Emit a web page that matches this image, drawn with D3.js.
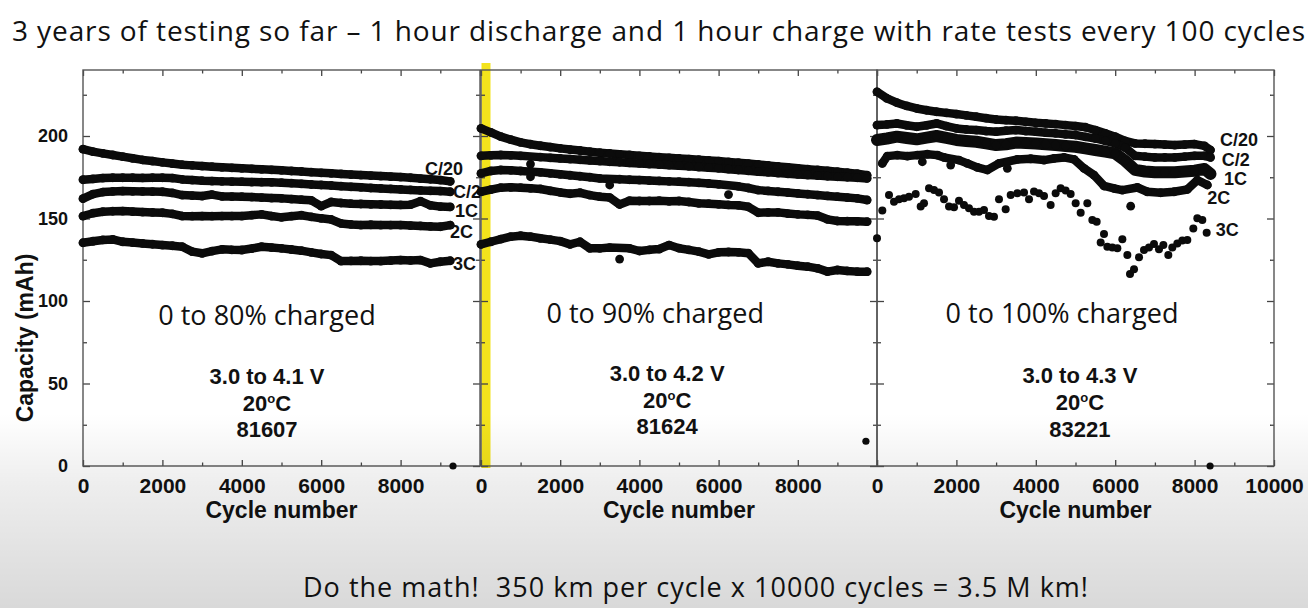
<!DOCTYPE html>
<html>
<head>
<meta charset="utf-8">
<script src="https://cdn.jsdelivr.net/npm/d3@7/dist/d3.min.js"></script>
<style>
  html, body { margin: 0; padding: 0; background: #fff; }
  svg { display: block; }
  .axis text { font-family: "Liberation Sans", Arial, sans-serif; font-weight: bold; fill: #111; }
  .axis line { stroke: #444; }
</style>
</head>
<body>
<svg id="chart" width="1308" height="608"></svg>
<script>
// ---- data (capacity in mAh vs cycle number) ----
const majorCycles = [0, 2000, 4000, 6000, 8000, 10000];
const minorCycles = [1000, 3000, 5000, 7000, 9000];
const majorCapacity = [0, 50, 100, 150, 200];
const minorCapacity = [25, 75, 125, 175, 225];

const cycles80 = [0, 250, 500, 750, 1000, 1250, 1500, 1750, 2000, 2250, 2500, 2750, 3000, 3250, 3500, 3750, 4000, 4250, 4500, 4750,
  5000, 5250, 5500, 5750, 6000, 6250, 6500, 6750, 7000, 7250, 7500, 7750, 8000, 8250, 8500, 8750, 9000, 9250];
const p80C20 = [192, 190.5, 189.5, 188.5, 187.5, 186.5, 185.5, 184.8, 184, 183.3, 182.6, 182.2, 181.8, 181.4, 181, 180.7, 180.4, 180.1, 179.8, 179.5,
  179.2, 178.8, 178.5, 178.1, 177.7, 177.4, 177, 176.6, 176.3, 176, 175.7, 175.4, 175.1, 174.7, 174.2, 173.8, 173.3, 172.5];
const p80C2 = [173.5, 174, 174.5, 174.7, 174.7, 174.7, 174.6, 174.7, 174.7, 174.5, 173.7, 173.3, 172.9, 172.7, 172.5, 172.4, 172.3, 172.1, 172, 171.9,
  171.7, 171.4, 171, 170.6, 170.3, 170, 169.6, 169.2, 168.9, 168.5, 168.2, 167.9, 167.6, 167.3, 167, 166.8, 166.6, 166.2];
const p80R1 = [162, 164.8, 166, 166.4, 166.6, 166.5, 166.4, 166.3, 166.2, 165.5, 164.2, 163.9, 163.6, 164.5, 163.4, 163.3, 163.2, 163, 162.7, 162.4,
  162.2, 161.8, 161.4, 161, 157.5, 160, 159.4, 159, 158.8, 158.6, 158.5, 158.3, 158.2, 158.4, 160.5, 158, 157.2, 157];
const p80R2 = [151.5, 153.2, 154.1, 154.4, 154.5, 154.2, 153.9, 153.7, 153.5, 152.8, 151.5, 151.4, 151.5, 151.4, 151.5, 151.5, 151.5, 152, 152.5, 151.5,
  150.7, 151.4, 152, 151, 150.1, 149.4, 147, 146.4, 146, 146.2, 146, 146, 146, 145.7, 145.5, 145.2, 145, 146];
const p80R3 = [135.3, 136.2, 137, 137.3, 135.9, 135.4, 134.9, 134.4, 133.9, 133.5, 132.9, 129.9, 128.9, 130.2, 131.3, 131, 130.9, 131.8, 132.9, 132.4,
  131.9, 131.2, 130.5, 129.5, 128.5, 127.8, 124.2, 124.3, 124.4, 124.2, 124.2, 124.5, 124.8, 124.6, 124.8, 122.8, 123.8, 124.4];

const cycles90 = [0, 250, 500, 750, 1000, 1250, 1500, 1750, 2000, 2250, 2500, 2750, 3000, 3250, 3500, 3750, 4000, 4250, 4500, 4750,
  5000, 5250, 5500, 5750, 6000, 6250, 6500, 6750, 7000, 7250, 7500, 7750, 8000, 8250, 8500, 8750, 9000, 9250, 9500, 9750];
const p90C20 = [204.6, 202.2, 199.6, 197.8, 196.1, 195, 194.1, 193.3, 192.5, 191.8, 191.2, 190.5, 189.9, 189.4, 188.9, 188.5, 188, 187.6, 187.2, 186.8,
  186.4, 186, 185.6, 185.2, 184.8, 184.3, 183.8, 183.3, 182.8, 182.2, 181.6, 181, 180.4, 179.9, 179.4, 178.9, 178.4, 177.8, 177.2, 176.2];
const p90C2 = [188, 188.3, 188.5, 188.3, 188, 183, 187.2, 186.8, 186.4, 186, 185.6, 185.2, 184.8, 184.4, 184.1, 183.7, 183.4, 183, 182.7, 182.3,
  182, 181.6, 181.2, 180.8, 180.4, 179.9, 179.4, 178.9, 178.4, 178, 177.5, 177.1, 176.7, 176.3, 176, 175.6, 175.3, 175, 174.7, 174.3];
const p90R1 = [177.3, 178.8, 179.4, 179.2, 178.8, 175.3, 178, 177.4, 176.8, 176.2, 175.6, 175, 174.3, 170.3, 173.8, 173.5, 173.3, 173, 172.8, 172.5,
  172.3, 172, 171.6, 171.2, 170.7, 164.5, 169.5, 168.5, 167.2, 166.7, 166.2, 165.7, 165.2, 164.7, 164.2, 163.7, 163.2, 162.7, 162.2, 161.2];
const p90R2 = [166.2, 167.5, 168.7, 168.9, 168.7, 168.3, 167.9, 166.8, 165.8, 165, 165.6, 164.2, 163.2, 162.7, 158.5, 160.8, 160.6, 160.6, 160.8, 160.4,
  160.6, 160, 159.2, 159, 158.6, 158.2, 158, 157.1, 153.5, 153.7, 153.7, 153, 152.5, 152.2, 151.8, 149.5, 148.5, 148.4, 148.3, 148.1];
const p90R3 = [134.3, 135.9, 137.5, 139, 139.6, 139, 138, 137.2, 136.3, 134.3, 135.9, 131.9, 131.9, 132.4, 125.4, 131.9, 130.3, 131, 131.5, 133.9,
  132, 131, 129.9, 128.3, 129.5, 129.7, 129.5, 129, 122.8, 123.8, 122.8, 122.2, 121.4, 120.8, 119.8, 117.8, 118.8, 118.2, 117.8, 117.8];

const cycles100 = [0, 250, 500, 750, 1000, 1250, 1500, 1750, 2000, 2250, 2500, 2750, 3000, 3250, 3500, 3750, 4000, 4250, 4500, 4750,
  5000, 5250, 5500, 5750, 6000, 6250, 6500, 6750, 7000, 7250, 7500, 7750, 8000, 8250, 8400];
const p100C20 = [226.8, 222.8, 220.2, 218.2, 216.7, 215.6, 214.7, 214, 213.3, 212.5, 211.7, 210.8, 210, 209.6, 209.3, 208.6, 208, 207.6, 207.2, 206.6,
  206, 205.3, 203.6, 201.6, 199.6, 197, 195.5, 195.3, 195.1, 194.8, 194.5, 194.8, 195.1, 194, 191.5];
const p100C2 = [206.6, 207, 207.6, 206.5, 205.6, 206.5, 207.6, 206, 204.6, 204, 203.6, 203, 202.6, 203.2, 203.6, 203, 202.6, 202, 201.6, 201,
  200.6, 199.5, 198.5, 197, 195.5, 193, 188, 187.5, 187, 187, 187, 187.5, 188, 188, 187];
const p100R1 = [197.6, 198.5, 199.6, 198.8, 198, 199, 200, 198.8, 197.6, 197, 196.5, 195.5, 194.5, 195, 196, 195.8, 195.5, 195, 194.5, 194,
  193.5, 192.5, 191.5, 190.5, 189.5, 185, 179.5, 178.5, 178, 178, 178, 178.5, 179, 180, 177];
const cycles100R2 = [134, 260, 512, 764, 1016, 1142, 1268, 1520, 1688, 1856, 2065, 2275, 2527, 2779, 3073, 3283, 3535, 3871, 4207, 4458,
  4710, 4962, 5214, 5466, 5718, 5970, 6180, 6390, 6558, 6809, 7145, 7481, 7817, 8069, 8321];
const p100R2 = [183.4, 187.8, 188.4, 187.8, 188.4, 184.4, 189, 188.4, 187, 182.4, 185.4, 183.4, 181, 179.4, 183.4, 180.4, 185.8, 186.2, 185.4, 186.4,
  187, 185.8, 180.4, 176.3, 169.7, 168.2, 167.2, 157.5, 168.8, 166.2, 165.6, 166.2, 167.6, 173.3, 170.3];
const cycles100R3 = [0, 134, 302, 428, 554, 680, 806, 974, 1100, 1184, 1310, 1436, 1562, 1688, 1814, 1940, 2065, 2191, 2317, 2443,
  2569, 2695, 2821, 2947, 3073, 3241, 3367, 3535, 3703, 3829, 3955, 4081, 4207, 4374, 4500, 4626, 4752, 4878, 5004, 5130,
  5298, 5424, 5533, 5634, 5718, 5802, 5928, 6054, 6180, 6306, 6373, 6474, 6600, 6725, 6851, 6977, 7103, 7213, 7338, 7439,
  7565, 7691, 7817, 7968, 8069, 8195, 8304];
const p100R3 = [138, 154.8, 164.2, 160.2, 161.6, 162.2, 163.2, 164.9, 157.2, 159.2, 168.3, 167.3, 165.7, 161.6, 157.2, 156.8, 160.8, 158.2, 156.2, 154.1,
  154.1, 155.2, 151.5, 151.1, 161.6, 155.6, 164.2, 165.3, 165.7, 161.6, 166.3, 165.3, 163.6, 158.2, 165.3, 168.3, 166.9, 164.9, 159.2, 153.5,
  159.2, 149.1, 148.1, 135.4, 140.6, 132.9, 132.5, 131.9, 137.4, 127.9, 116.4, 119.2, 126.5, 130.9, 132.5, 134.6, 131.3, 133.9, 127.9, 132.5,
  134.9, 136.6, 137, 144, 150.1, 149.1, 141.4];

// one stray reading near the end of each test
const strayCycles = [9320, 9720, 8390];
const strayCapacity = [0, 15, 0];

const rateLabels = ['C/20', 'C/2', '1C', '2C', '3C'];
const chargeNotes = ['0 to 80% charged', '0 to 90% charged', '0 to 100% charged'];
const voltageNotes = ['3.0 to 4.1 V', '3.0 to 4.2 V', '3.0 to 4.3 V'];
const cellIds = ['81607', '81624', '83221'];

const titleText = '3 years of testing so far \u2013 1 hour discharge and 1 hour charge with rate tests every 100 cycles';
const footText = 'Do the math!  350 km per cycle x 10000 cycles = 3.5 M km!';

// ---- layout ----
const svg = d3.select('#chart');
const plotTop = 70;
const plotBottom = 466;
const ink = '#0b0b0b';
const sans = '"Liberation Sans", Arial, sans-serif';

const y = d3.scaleLinear().domain([0, 240]).range([plotBottom, plotTop]);

const panels = [
  {
    left: 83, right: 480, lastLabel: false,
    series: [
      { cycles: cycles80, values: p80C20, joined: true },
      { cycles: cycles80, values: p80C2, joined: true },
      { cycles: cycles80, values: p80R1, joined: true },
      { cycles: cycles80, values: p80R2, joined: true },
      { cycles: cycles80, values: p80R3, joined: true }
    ],
    labels: [[8615, 176.4], [9320, 162.2], [9370, 150.7], [9245, 138], [9320, 118.8]],
    noteX: 4635, blockX: 4635, blockY: [384, 411, 437]
  },
  {
    left: 481, right: 877, lastLabel: false, highlight: true,
    series: [
      { cycles: cycles90, values: p90C20, joined: true },
      { cycles: cycles90, values: p90C2, joined: true },
      { cycles: cycles90, values: p90R1, joined: true },
      { cycles: cycles90, values: p90R2, joined: true },
      { cycles: cycles90, values: p90R3, joined: true }
    ],
    labels: null,
    noteX: 4400, blockX: 4700, blockY: [381, 408, 434]
  },
  {
    left: 877, right: 1274, lastLabel: true,
    series: [
      { cycles: cycles100, values: p100C20, joined: true },
      { cycles: cycles100, values: p100C2, joined: true },
      { cycles: cycles100, values: p100R1, joined: true, weight: 12 },
      { cycles: cycles100R2, values: p100R2, joined: true },
      { cycles: cycles100R3, values: p100R3, joined: false }
    ],
    labels: [[8640, 193.8], [8683, 181.8], [8740, 170.1], [8320, 158.6], [8532, 139.4]],
    noteX: 4660, blockX: 5110, blockY: [383, 410, 437]
  }
];

function drawAxes(g, x, p, i) {
  const fmtX = d => (d === 10000 && !p.lastLabel ? '' : d);
  g.append('g').attr('class', 'axis').attr('transform', `translate(0,${plotBottom})`)
    .call(d3.axisBottom(x).tickValues(majorCycles).tickSize(-6).tickPadding(12).tickFormat(fmtX))
    .call(a => a.selectAll('text').style('font-size', '21px'));
  g.append('g').attr('class', 'axis').attr('transform', `translate(0,${plotBottom})`)
    .call(d3.axisBottom(x).tickValues(minorCycles).tickSize(-3.5).tickFormat(''));
  g.append('g').attr('class', 'axis').attr('transform', `translate(0,${plotTop})`)
    .call(d3.axisTop(x).tickValues(majorCycles).tickSize(-6).tickFormat(''));
  g.append('g').attr('class', 'axis').attr('transform', `translate(0,${plotTop})`)
    .call(d3.axisTop(x).tickValues(minorCycles).tickSize(-3.5).tickFormat(''));

  g.append('g').attr('class', 'axis').attr('transform', `translate(${p.left},0)`)
    .call(d3.axisLeft(y).tickValues(majorCapacity).tickSize(-7).tickPadding(15).tickFormat(i === 0 ? d => d : ''))
    .call(a => a.selectAll('text').style('font-size', '18px'));
  g.append('g').attr('class', 'axis').attr('transform', `translate(${p.left},0)`)
    .call(d3.axisLeft(y).tickValues(minorCapacity).tickSize(-4).tickFormat(''));
  g.append('g').attr('class', 'axis').attr('transform', `translate(${p.right},0)`)
    .call(d3.axisRight(y).tickValues(majorCapacity).tickSize(-7).tickFormat(''));
  g.append('g').attr('class', 'axis').attr('transform', `translate(${p.right},0)`)
    .call(d3.axisRight(y).tickValues(minorCapacity).tickSize(-4).tickFormat(''));

  g.selectAll('.domain').remove();
  g.selectAll('.axis line').attr('stroke-width', 1.3);

  g.append('rect')
    .attr('x', p.left).attr('y', plotTop)
    .attr('width', p.right - p.left).attr('height', plotBottom - plotTop)
    .attr('fill', 'none').attr('stroke', '#555').attr('stroke-width', 1.4);

  g.append('text')
    .attr('x', (p.left + p.right) / 2).attr('y', 518)
    .attr('text-anchor', 'middle')
    .style('font-family', sans)
    .style('font-weight', 'bold').style('font-size', '23px').attr('fill', '#111')
    .text('Cycle number');
}

// a reading that sits well below both neighbours is a lone dip: dot only, not in the band
function isDip(pts, k) {
  if (k === 0 || k === pts.length - 1) return false;
  return pts[k][1] < Math.min(pts[k - 1][1], pts[k + 1][1]) - 2.5;
}

function drawSeries(g, x, p) {
  const line = d3.line().x(d => x(d[0])).y(d => y(d[1]));
  p.series.forEach((s) => {
    const n = Math.min(s.cycles.length, s.values.length);
    const pts = s.cycles.slice(0, n).map((c, k) => [c, s.values[k]]);
    const weight = s.weight || 8.5;
    if (s.joined) {
      const band = pts.filter((d, k) => !isDip(pts, k));
      g.append('path')
        .attr('d', line(band))
        .attr('fill', 'none').attr('stroke', ink)
        .attr('stroke-width', weight).attr('stroke-linejoin', 'round').attr('stroke-linecap', 'round');
    }
    g.append('g').selectAll('circle')
      .data(pts)
      .join('circle')
      .attr('cx', d => x(d[0])).attr('cy', d => y(d[1]))
      .attr('r', s.joined ? 4.4 : 4).attr('fill', ink);
  });
}

function drawNotes(g, x, p, i) {
  g.append('text')
    .attr('x', x(p.noteX)).attr('y', i === 0 ? 325 : 323)
    .attr('text-anchor', 'middle')
    .style('font-family', '"Open Sans", sans-serif').style('font-size', '27px').attr('fill', '#111')
    .text(chargeNotes[i]);

  const block = g.append('g').style('font-family', sans).style('font-weight', 'bold')
    .style('font-size', '22px').attr('fill', '#111').attr('text-anchor', 'middle');
  block.append('text').attr('x', x(p.blockX)).attr('y', p.blockY[0]).text(voltageNotes[i]);
  const temp = block.append('text').attr('x', x(p.blockX)).attr('y', p.blockY[1]);
  temp.append('tspan').text('20');
  temp.append('tspan').attr('dy', -8).style('font-size', '13px').text('o');
  temp.append('tspan').attr('dy', 8).text('C');
  block.append('text').attr('x', x(p.blockX)).attr('y', p.blockY[2]).text(cellIds[i]);

  if (p.labels) {
    g.append('g').selectAll('text')
      .data(p.labels)
      .join('text')
      .attr('x', d => x(d[0])).attr('y', d => y(d[1]))
      .style('font-family', sans).style('font-weight', 'bold').style('font-size', '18px')
      .attr('fill', '#111')
      .text((d, k) => rateLabels[k]);
  }
}

// page background shade (video frame)
const defs = svg.append('defs');
const shade = defs.append('linearGradient').attr('id', 'shade')
  .attr('gradientUnits', 'userSpaceOnUse').attr('x1', 0).attr('y1', 0).attr('x2', 0).attr('y2', 608);
shade.append('stop').attr('offset', 0.68).attr('stop-color', '#000').attr('stop-opacity', 0);
shade.append('stop').attr('offset', 0.8).attr('stop-color', '#000').attr('stop-opacity', 0.07);
shade.append('stop').attr('offset', 1).attr('stop-color', '#000').attr('stop-opacity', 0.15);

svg.append('rect').attr('width', 1308).attr('height', 608).attr('fill', '#fff');

panels.forEach((p, i) => {
  const x = d3.scaleLinear().domain([0, 10000]).range([p.left, p.right]);
  const g = svg.append('g').attr('class', 'panel');
  if (p.highlight) {
    g.append('rect')
      .attr('x', p.left + 0.5).attr('y', 63)
      .attr('width', 9).attr('height', 405)
      .attr('fill', '#f3e31c');
  }
  drawAxes(g, x, p, i);
  drawSeries(g, x, p);
  g.append('circle')
    .attr('cx', x(strayCycles[i])).attr('cy', y(strayCapacity[i]))
    .attr('r', 3.6).attr('fill', ink);
  drawNotes(g, x, p, i);
});

svg.append('text')
  .attr('transform', `translate(33,${(plotTop + plotBottom) / 2 + 70}) rotate(-90)`)
  .attr('text-anchor', 'middle')
  .style('font-family', sans)
  .style('font-weight', 'bold').style('font-size', '23px').attr('fill', '#111')
  .text('Capacity (mAh)');

svg.append('text')
  .attr('x', 12).attr('y', 41)
  .attr('textLength', 1293)
  .style('font-family', '"Open Sans", sans-serif').style('font-size', '28px').attr('fill', '#111')
  .text(titleText);

svg.append('rect').attr('width', 1308).attr('height', 608).attr('fill', 'url(#shade)')
  .style('pointer-events', 'none');

svg.append('text')
  .attr('x', 303).attr('y', 597)
  .attr('textLength', 785)
  .style('font-family', '"Open Sans", sans-serif').style('font-size', '27px')
  .style('white-space', 'pre').attr('fill', '#111')
  .text(footText);
</script>
</body>
</html>
